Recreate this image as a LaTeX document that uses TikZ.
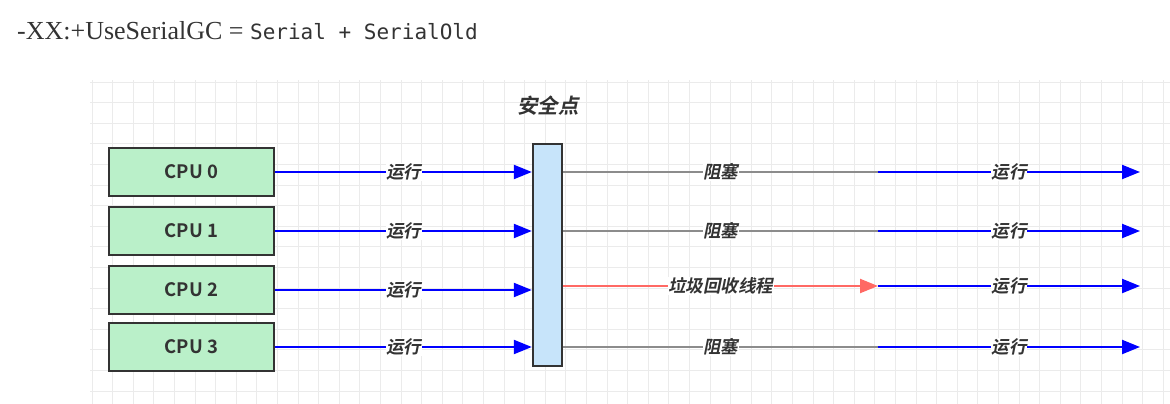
\documentclass[tikz,border=0pt]{standalone}
\usepackage{fontspec}
\setmainfont{Liberation Serif}
\setmonofont{DejaVu Sans Mono}
\newfontfamily\cjkbold{Noto Sans CJK SC Bold}
\newfontfamily\cjkslant{Noto Sans CJK SC Bold}[FakeSlant=0.2]
\usetikzlibrary{arrows.meta}
\definecolor{cpugreen}{RGB}{186,240,201}
\definecolor{safeblue}{RGB}{199,228,250}
\definecolor{blockgray}{RGB}{140,140,140}
\definecolor{gcred}{RGB}{255,105,100}
\definecolor{inkgray}{RGB}{51,51,51}
\tikzset{
  cpubox/.style={draw=inkgray,line width=2.4pt,fill=cpugreen,minimum width=165pt,minimum height=48pt,
    font=\cjkbold\fontsize{18.5}{18.5}\selectfont,text=inkgray},
  safebox/.style={draw=inkgray,line width=2.4pt,fill=safeblue,minimum width=29pt,minimum height=222pt},
  lbl/.style={fill=white,inner sep=0.5pt,font=\cjkslant\fontsize{17.5}{17.5}\selectfont,text=inkgray},
  run/.style={draw=blue,line width=2.2pt,-{Triangle[length=18pt,width=14pt]}},
  blocked/.style={draw=blockgray,line width=2.2pt},
  gc/.style={draw=gcred,line width=2.2pt,-{Triangle[length=18pt,width=14pt]}},
  gridline/.style={draw=black!8,line width=0.8pt}
}
\begin{document}
\begin{tikzpicture}[x=1pt,y=-1pt]
\useasboundingbox (0,0) rectangle (1170,404);
% background grid
\foreach \gx in {0,...,52} \draw[gridline] (92+20.6*\gx,80) -- (92+20.6*\gx,404);
\foreach \gy in {0,...,15} \draw[gridline] (90,82+20.6*\gy) -- (1170,82+20.6*\gy);
\node[anchor=base west,inner sep=0pt,text=inkgray] (flag) at (17,40)
  {\fontsize{26}{26}\selectfont -XX:+UseSerialGC = {\fontsize{21}{21}\selectfont\texttt{Serial + SerialOld}}};
% cpus and safepoint
\node[cpubox] (cpu0) at (191.5,172) {CPU 0};
\node[cpubox] (cpu1) at (191.5,231) {CPU 1};
\node[cpubox] (cpu2) at (191.5,290) {CPU 2};
\node[cpubox] (cpu3) at (191.5,347) {CPU 3};
\node[safebox] (safe) at (547.5,255) {};
\node[font=\cjkslant\fontsize{20.5}{20.5}\selectfont,text=inkgray] (title) at (548,106) {安全点};
% running up to the safepoint
\draw[run] (cpu0.east) -- node[lbl] {运行} (cpu0.east -| safe.west);
\draw[run] (cpu1.east) -- node[lbl] {运行} (cpu1.east -| safe.west);
\draw[run] (cpu2.east) -- node[lbl] {运行} (cpu2.east -| safe.west);
\draw[run] (cpu3.east) -- node[lbl] {运行} (cpu3.east -| safe.west);
% after the safepoint
\coordinate (m0) at (878,172);
\coordinate (m1) at (878,231);
\coordinate (m2) at (878,286);
\coordinate (m3) at (878,347);
\coordinate (e0) at (1140,172);
\coordinate (e1) at (1140,231);
\coordinate (e2) at (1140,286);
\coordinate (e3) at (1140,347);
\draw[blocked] (safe.east |- m0) -- node[lbl] {阻塞} (m0);
\draw[blocked] (safe.east |- m1) -- node[lbl] {阻塞} (m1);
\draw[gc] (safe.east |- m2) -- node[lbl] {垃圾回收线程} (m2);
\draw[blocked] (safe.east |- m3) -- node[lbl] {阻塞} (m3);
\draw[run] (m0) -- node[lbl] {运行} (e0);
\draw[run] (m1) -- node[lbl] {运行} (e1);
\draw[run] (m2) -- node[lbl] {运行} (e2);
\draw[run] (m3) -- node[lbl] {运行} (e3);
\end{tikzpicture}
\end{document}
